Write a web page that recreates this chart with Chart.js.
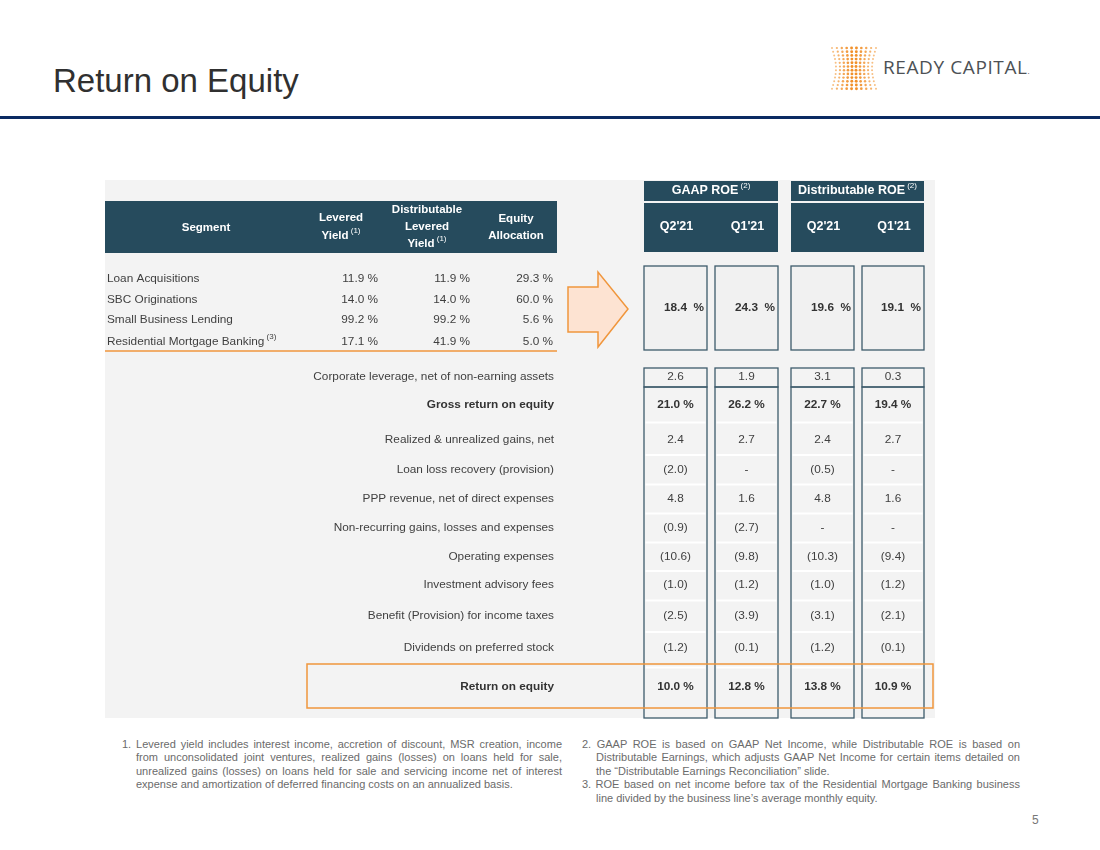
<!DOCTYPE html>
<html>
<head>
<meta charset="utf-8">
<script src="https://cdn.jsdelivr.net/npm/chart.js@4/dist/chart.umd.min.js"></script>
<style>
  body { margin: 0; width: 1100px; height: 850px; background: #fff; position: relative; overflow: hidden;
         font-family: "Liberation Sans", Arial, sans-serif; }
  #title { position: absolute; left: 53px; top: 62px; font-size: 33px; line-height: 38px; color: #303030; }
  #rule { position: absolute; left: 0; top: 116px; width: 1100px; height: 3px; background: #0b2a62; }
  #logoDots { position: absolute; left: 829px; top: 44px; }
  #logoText { position: absolute; left: 883px; top: 55px; font-family: "Open Sans", sans-serif; font-size: 19px;
              line-height: 24px; color: #4d5155; letter-spacing: 0.6px; white-space: nowrap; }
  #logoText span { font-size: 8px; letter-spacing: 0; }
  #table { position: absolute; left: 100px; top: 170px; }
  .notes { position: absolute; top: 738px; font-size: 11px; line-height: 13.4px; color: #6b6b6b; text-align: justify; }
  .notes p { margin: 0; padding-left: 14px; text-indent: -14px; }
  #pageNo { position: absolute; left: 1032px; top: 813px; font-size: 12px; color: #777; }
</style>
</head>
<body>
<div id="title">Return on Equity</div>
<canvas id="logoDots" width="52" height="50"></canvas>
<div id="logoText">READY CAPITAL<span>.</span></div>
<div id="rule"></div>
<canvas id="table" width="840" height="560"></canvas>
<div class="notes" style="left:122px;width:440px">
  <p>1. Levered yield includes interest income, accretion of discount, MSR creation, income from unconsolidated joint ventures, realized gains (losses) on loans held for sale, unrealized gains (losses) on loans held for sale and servicing income net of interest expense and amortization of deferred financing costs on an annualized basis.</p>
</div>
<div class="notes" style="left:582px;width:438px">
  <p>2. GAAP ROE is based on GAAP Net Income, while Distributable ROE is based on Distributable Earnings, which adjusts GAAP Net Income for certain items detailed on the “Distributable Earnings Reconciliation” slide.</p>
  <p>3. ROE based on net income before tax of the Residential Mortgage Banking business line divided by the business line’s average monthly equity.</p>
</div>
<div id="pageNo">5</div>
<script>
// ---- data ----
const segments = ["Loan Acquisitions", "SBC Originations", "Small Business Lending", "Residential Mortgage Banking"];
const segmentNotes = [null, null, null, "(3)"];
const leveredYield = [11.9, 14.0, 99.2, 17.1];
const distLeveredYield = [11.9, 14.0, 99.2, 41.9];
const equityAllocation = [29.3, 60.0, 5.6, 5.0];

const roeGroups = ["GAAP ROE", "Distributable ROE"];
const quarters = ["Q2'21", "Q1'21", "Q2'21", "Q1'21"];
const segmentRoe = [18.4, 24.3, 19.6, 19.1];

const bridgeItems = [
  "Corporate leverage, net of non-earning assets",
  "Gross return on equity",
  "Realized & unrealized gains, net",
  "Loan loss recovery (provision)",
  "PPP revenue, net of direct expenses",
  "Non-recurring gains, losses and expenses",
  "Operating expenses",
  "Investment advisory fees",
  "Benefit (Provision) for income taxes",
  "Dividends on preferred stock",
  "Return on equity"
];
const gaapQ2 = [2.6, 21.0, 2.4, -2.0, 4.8, -0.9, -10.6, -1.0, -2.5, -1.2, 10.0];
const gaapQ1 = [1.9, 26.2, 2.7, null, 1.6, -2.7, -9.8, -1.2, -3.9, -0.1, 12.8];
const distQ2 = [3.1, 22.7, 2.4, -0.5, 4.8, null, -10.3, -1.0, -3.1, -1.2, 13.8];
const distQ1 = [0.3, 19.4, 2.7, null, 1.6, null, -9.4, -1.2, -2.1, -0.1, 10.9];
const totalRows = [1, 10];

// ---- layout (table units, y grows downward) ----
const SEG_LEFT = 7, LEV_RIGHT = 278, DIST_RIGHT = 370, ALLOC_RIGHT = 453, LABEL_RIGHT = 454;
const ROE_COLS = [[544, 607], [615, 678], [691, 754], [762, 824]];
const SEG_ROWS = [109, 130, 150, 172];
const ROE_ROW = 138;
const BRIDGE_ROWS = [207, 235, 270, 300, 329, 358, 387, 415, 446, 478, 517];

const DARK = "#264b5d";
const BOX = "#3d5b6b";
const ORANGE = "#f0963c";
const TEXT = "#3f3f3f";
const FONT = "Liberation Sans, Arial, sans-serif";
const SIZE = "11.8px ";

function pct(v) { return v.toFixed(1) + " %"; }
function bridgeFmt(v, row) {
  if (v === null) return "-";
  if (totalRows.includes(row)) return pct(v);
  return v < 0 ? "(" + Math.abs(v).toFixed(1) + ")" : v.toFixed(1);
}
const colMid = c => (c[0] + c[1]) / 2;

function textSet(points, texts, align, opts) {
  return Object.assign({
    data: points, texts: texts, align: align, pointRadius: 0, pointHoverRadius: 0,
    bold: texts.map(() => false), notes: texts.map(() => null)
  }, opts || {});
}

const datasets = [
  textSet(SEG_ROWS.map(y => ({ x: SEG_LEFT, y })), segments, "left", { notes: segmentNotes }),
  textSet(SEG_ROWS.map(y => ({ x: LEV_RIGHT, y })), leveredYield.map(pct), "right"),
  textSet(SEG_ROWS.map(y => ({ x: DIST_RIGHT, y })), distLeveredYield.map(pct), "right"),
  textSet(SEG_ROWS.map(y => ({ x: ALLOC_RIGHT, y })), equityAllocation.map(pct), "right"),
  textSet(ROE_COLS.map(c => ({ x: c[1] - 3, y: ROE_ROW })), segmentRoe.map(v => v.toFixed(1) + "  %"), "right",
          { bold: segmentRoe.map(() => true) }),
  textSet(BRIDGE_ROWS.map(y => ({ x: LABEL_RIGHT, y })), bridgeItems, "right",
          { bold: bridgeItems.map((_, i) => totalRows.includes(i)) })
];
[gaapQ2, gaapQ1, distQ2, distQ1].forEach((series, j) => {
  datasets.push(textSet(BRIDGE_ROWS.map(y => ({ x: colMid(ROE_COLS[j]), y })),
    series.map(bridgeFmt), "center", { bold: series.map((_, i) => totalRows.includes(i)) }));
});

function drawText(c, str, x, y, align, font, color, note) {
  c.font = font;
  const w = c.measureText(str).width;
  let nw = 0;
  const noteFont = "8px " + FONT;
  if (note) { c.font = noteFont; nw = c.measureText(" " + note).width; c.font = font; }
  let left = align === "left" ? x : align === "right" ? x - w - nw : x - (w + nw) / 2;
  c.fillStyle = color;
  c.textAlign = "left";
  c.textBaseline = "middle";
  c.fillText(str, left, y);
  if (note) { c.font = noteFont; c.fillText(" " + note, left + w, y - 5); }
}

const tablePlugin = {
  id: "tablePlugin",
  beforeDatasetsDraw(chart) {
    const c = chart.ctx, sx = chart.scales.x, sy = chart.scales.y;
    const X = v => sx.getPixelForValue(v), Y = v => sy.getPixelForValue(v);
    const rect = (x0, y0, x1, y1) => [X(x0), Y(y0), X(x1) - X(x0), Y(y1) - Y(y0)];
    c.save();
    // panel background
    c.fillStyle = "#f3f3f3";
    c.fillRect(...rect(5, 10, 835, 548));
    // left header band
    c.fillStyle = DARK;
    c.fillRect(...rect(5, 31, 457, 83));
    // ROE headers
    [[ROE_COLS[0][0], ROE_COLS[1][1]], [ROE_COLS[2][0], ROE_COLS[3][1]]].forEach(g => {
      c.fillRect(...rect(g[0], 11, g[1], 31));
      c.fillRect(...rect(g[0], 33, g[1], 82));
    });
    // orange underline under segments
    c.strokeStyle = ORANGE; c.lineWidth = 1.5;
    c.beginPath(); c.moveTo(X(5), Y(181)); c.lineTo(X(457), Y(181)); c.stroke();
    // arrow
    c.fillStyle = "#fde3d2";
    c.beginPath();
    [[468, 117], [498, 117], [498, 102], [528, 139], [498, 177], [498, 162], [468, 162]].forEach((p, i) => {
      i ? c.lineTo(X(p[0]), Y(p[1])) : c.moveTo(X(p[0]), Y(p[1]));
    });
    c.closePath(); c.fill(); c.stroke();
    // column boxes
    c.strokeStyle = BOX; c.lineWidth = 1.3;
    ROE_COLS.forEach(col => {
      c.fillStyle = "#f1f1f1";
      c.fillRect(...rect(col[0], 96, col[1], 180));
      c.strokeRect(...rect(col[0], 96, col[1], 180));
      c.strokeRect(...rect(col[0], 198, col[1], 217));
      c.strokeRect(...rect(col[0], 217, col[1], 548));
      c.strokeStyle = "#ffffff"; c.lineWidth = 2;
      for (let i = 1; i < BRIDGE_ROWS.length - 1; i++) {
        const ym = (BRIDGE_ROWS[i] + BRIDGE_ROWS[i + 1]) / 2;
        c.beginPath(); c.moveTo(X(col[0] + 1.5), Y(ym)); c.lineTo(X(col[1] - 1.5), Y(ym)); c.stroke();
      }
      c.strokeStyle = BOX; c.lineWidth = 1.3;
    });
    // return on equity highlight
    c.strokeStyle = ORANGE; c.lineWidth = 1.5;
    c.strokeRect(...rect(207, 494, 833, 538));
    c.restore();
  },
  afterDatasetsDraw(chart) {
    const c = chart.ctx, sx = chart.scales.x, sy = chart.scales.y;
    const X = v => sx.getPixelForValue(v), Y = v => sy.getPixelForValue(v);
    c.save();
    const hb = "bold 11.5px " + FONT;
    // left header text
    drawText(c, "Segment", X(106), Y(58), "center", hb, "#fff");
    drawText(c, "Levered", X(241), Y(48), "center", hb, "#fff");
    drawText(c, "Yield", X(241), Y(66), "center", hb, "#fff", "(1)");
    drawText(c, "Distributable", X(327), Y(40), "center", hb, "#fff");
    drawText(c, "Levered", X(327), Y(57), "center", hb, "#fff");
    drawText(c, "Yield", X(327), Y(74), "center", hb, "#fff", "(1)");
    drawText(c, "Equity", X(416), Y(49), "center", hb, "#fff");
    drawText(c, "Allocation", X(416), Y(66), "center", hb, "#fff");
    // ROE group + quarter headers
    const qb = "bold 12.5px " + FONT;
    drawText(c, roeGroups[0], X((ROE_COLS[0][0] + ROE_COLS[1][1]) / 2), Y(21), "center", qb, "#fff", "(2)");
    drawText(c, roeGroups[1], X((ROE_COLS[2][0] + ROE_COLS[3][1]) / 2), Y(21), "center", qb, "#fff", "(2)");
    quarters.forEach((q, j) => drawText(c, q, X(colMid(ROE_COLS[j]) + 1), Y(57), "center", qb, "#fff"));
    // cell texts from dataset points
    chart.data.datasets.forEach((ds, i) => {
      chart.getDatasetMeta(i).data.forEach((pt, j) => {
        const f = (ds.bold[j] ? "bold " : "") + SIZE + FONT;
        drawText(c, ds.texts[j], pt.x, pt.y, ds.align, f, ds.bold[j] ? "#333" : TEXT, ds.notes[j]);
      });
    });
    c.restore();
  }
};

new Chart(document.getElementById("table").getContext("2d"), {
  type: "scatter",
  data: { datasets: datasets },
  options: {
    responsive: false,
    animation: false,
    events: [],
    layout: { padding: 0 },
    plugins: { legend: { display: false }, tooltip: { enabled: false } },
    scales: {
      x: { type: "linear", min: 0, max: 840, display: false },
      y: { type: "linear", min: 0, max: 560, reverse: true, display: false }
    }
  },
  plugins: [tablePlugin]
});

// logo dot mark
(function () {
  const c = document.getElementById("logoDots").getContext("2d");
  const cols = 10, rows = 12;
  for (let r = 0; r < rows; r++) {
    const t = r / (rows - 1);
    const inset = 4 * Math.sin(Math.PI * t);
    const y = 4 + r * 3.7;
    for (let i = 0; i < cols; i++) {
      const u = i / (cols - 1);
      const x = 3 + inset + u * (44 - 2 * inset);
      const edge = Math.abs(u - 0.5) * 2;
      c.globalAlpha = 1 - edge * 0.45;
      c.fillStyle = "#f08a1e";
      c.beginPath(); c.arc(x, y, 1.5 - edge * 0.5, 0, Math.PI * 2); c.fill();
    }
  }
})();
</script>
</body>
</html>
